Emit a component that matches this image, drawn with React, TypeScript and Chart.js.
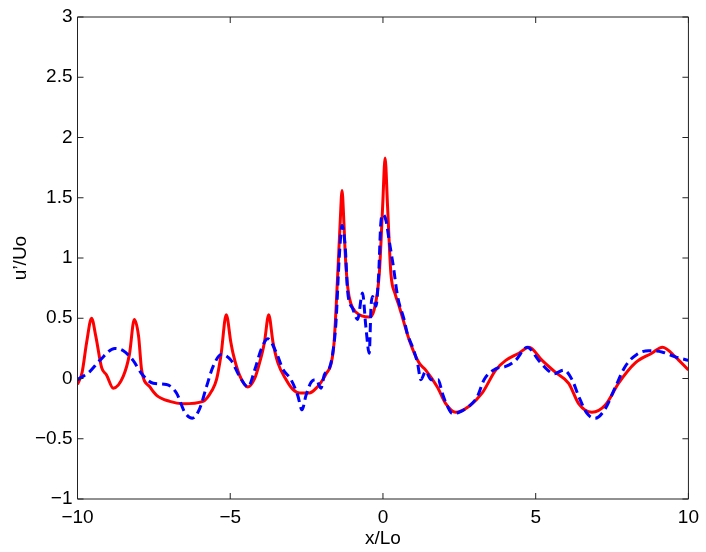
import React, { useEffect, useRef } from "react";
import { Chart, registerables } from "chart.js";

Chart.register(...registerables);

const redX = [-10, -9.85, -9.7, -9.54, -9.4, -9.21, -9.05, -8.83, -8.5, -8.3, -8.14, -8.0, -7.9, -7.63, -7.41, -6.98, -6.55, -5.89, -5.6, -5.45, -5.3, -5.13, -4.98, -4.91, -4.7, -4.42, -4.2, -4.04, -3.88, -3.74, -3.6, -3.44, -3.17, -2.95, -2.73, -2.41, -2.15, -1.97, -1.86, -1.7, -1.6, -1.48, -1.4, -1.34, -1.28, -1.23, -1.15, -1.05, -0.88, -0.45, -0.29, -0.12, -0.01, 0.07, 0.15, 0.26, 0.4, 0.53, 0.86, 1.18, 1.4, 1.78, 2.06, 2.38, 2.82, 3.25, 3.69, 4.02, 4.45, 4.78, 5.21, 5.65, 6.08, 6.41, 6.84, 7.28, 7.71, 8.26, 8.8, 9.15, 9.57, 10];
const redY = [-0.05, 0.05, 0.3, 0.5, 0.35, 0.09, 0.03, -0.08, 0.02, 0.2, 0.49, 0.35, 0.07, -0.07, -0.14, -0.19, -0.21, -0.19, -0.1, -0.01, 0.2, 0.53, 0.3, 0.21, 0.03, -0.07, 0.0, 0.13, 0.3, 0.53, 0.3, 0.13, -0.01, -0.09, -0.12, -0.12, -0.07, -0.01, 0.04, 0.12, 0.3, 0.87, 1.3, 1.56, 1.3, 1.01, 0.75, 0.62, 0.55, 0.51, 0.57, 0.87, 1.43, 1.83, 1.43, 0.87, 0.7, 0.6, 0.32, 0.13, 0.07, -0.07, -0.21, -0.28, -0.23, -0.12, 0.07, 0.15, 0.21, 0.26, 0.15, 0.05, -0.04, -0.21, -0.28, -0.22, -0.04, 0.13, 0.21, 0.26, 0.18, 0.07];

const blueX = [-10, -9.59, -9.27, -8.78, -8.5, -8.18, -7.9, -7.52, -7.09, -6.76, -6.49, -6.24, -6.0, -5.78, -5.56, -5.29, -4.97, -4.69, -4.42, -4.2, -3.99, -3.77, -3.5, -3.28, -3.01, -2.79, -2.65, -2.52, -2.35, -2.19, -2.03, -1.92, -1.76, -1.65, -1.54, -1.43, -1.34, -1.23, -1.16, -0.99, -0.83, -0.67, -0.56, -0.45, -0.39, -0.34, -0.23, -0.14, -0.07, 0.0, 0.1, 0.2, 0.34, 0.48, 0.69, 0.8, 0.97, 1.13, 1.24, 1.4, 1.57, 1.81, 1.94, 2.11, 2.27, 2.49, 2.82, 3.09, 3.31, 3.69, 4.02, 4.34, 4.72, 5.1, 5.35, 5.6, 5.92, 6.19, 6.41, 6.68, 6.95, 7.28, 7.61, 7.93, 8.31, 8.69, 9.13, 9.57, 10];
const blueY = [-0.01, 0.06, 0.15, 0.25, 0.23, 0.15, 0.04, -0.04, -0.05, -0.12, -0.28, -0.33, -0.25, -0.07, 0.1, 0.2, 0.15, 0.015, -0.07, 0.07, 0.24, 0.33, 0.22, 0.08, -0.01, -0.14, -0.26, -0.14, -0.03, -0.01, -0.08, 0.03, 0.08, 0.2, 0.46, 1.01, 1.27, 1.07, 0.73, 0.58, 0.49, 0.71, 0.43, 0.21, 0.6, 0.68, 0.6, 0.87, 1.29, 1.36, 1.31, 1.15, 0.93, 0.68, 0.49, 0.37, 0.26, 0.13, -0.01, 0.06, -0.01, -0.01, -0.12, -0.23, -0.29, -0.28, -0.23, -0.15, -0.01, 0.08, 0.1, 0.15, 0.26, 0.15, 0.08, 0.04, 0.07, -0.01, -0.15, -0.29, -0.33, -0.25, -0.07, 0.1, 0.2, 0.23, 0.22, 0.18, 0.15];

const xTicks = [-10, -5, 0, 5, 10];
const yTicks = [-1, -0.5, 0, 0.5, 1, 1.5, 2, 2.5, 3];
const xTitle = "x/Lo";
const yTitle = "u\u2019/Uo";

const fmt = (v: number) => (v < 0 ? "\u2212" + String(Math.abs(v)) : String(v));

const boxPlugin = {
  id: "boxTicks",
  afterDraw(chart: any) {
    const { ctx, chartArea } = chart;
    const { left, right, top, bottom } = chartArea;
    const xs = chart.scales.x;
    const ys = chart.scales.y;
    const tl = 6;
    ctx.save();
    ctx.strokeStyle = "#222";
    ctx.lineWidth = 1;
    ctx.beginPath();
    ctx.rect(left, top, right - left, bottom - top);
    ctx.stroke();
    ctx.beginPath();
    for (const v of xTicks) {
      const px = xs.getPixelForValue(v);
      ctx.moveTo(px, bottom);
      ctx.lineTo(px, bottom - tl);
      ctx.moveTo(px, top);
      ctx.lineTo(px, top + tl);
    }
    for (const v of yTicks) {
      const py = ys.getPixelForValue(v);
      ctx.moveTo(left, py);
      ctx.lineTo(left + tl, py);
      ctx.moveTo(right, py);
      ctx.lineTo(right - tl, py);
    }
    ctx.stroke();
    ctx.restore();
  },
};

export default function App() {
  const ref = useRef<HTMLCanvasElement | null>(null);
  useEffect(() => {
    if (!ref.current) return;
    const font = { family: "'Liberation Sans', Arial, sans-serif", size: 19 };
    const chart = new Chart(ref.current, {
      type: "line",
      data: {
        datasets: [
          {
            label: "red",
            data: redX.map((x, i) => ({ x, y: redY[i] })),
            borderColor: "#ff0000",
            borderWidth: 3,
            pointRadius: 0,
            tension: 0.4,
            cubicInterpolationMode: "monotone",
            order: 1,
          },
          {
            label: "blue",
            data: blueX.map((x, i) => ({ x, y: blueY[i] })),
            borderColor: "#0000ff",
            borderWidth: 3,
            borderDash: [9, 5],
            pointRadius: 0,
            tension: 0.4,
            cubicInterpolationMode: "monotone",
            order: 0,
          },
        ],
      },
      options: {
        animation: false,
        responsive: false,
        maintainAspectRatio: false,
        layout: { padding: { top: 17, right: 16, bottom: 0, left: 0 } },
        plugins: { legend: { display: false }, tooltip: { enabled: false } },
        scales: {
          x: {
            type: "linear",
            min: -10,
            max: 10,
            afterBuildTicks: (s: any) => {
              s.ticks = xTicks.map((v) => ({ value: v }));
            },
            afterFit: (s: any) => {
              s.height = 53;
            },
            grid: { display: false, drawTicks: false },
            border: { display: false },
            ticks: { color: "#000", font, padding: 7, callback: (v: any) => fmt(Number(v)), maxRotation: 0 },
            title: { display: true, text: xTitle, color: "#000", font, padding: { top: 0, bottom: 2 } },
          },
          y: {
            type: "linear",
            min: -1,
            max: 3,
            afterBuildTicks: (s: any) => {
              s.ticks = yTicks.map((v) => ({ value: v }));
            },
            afterFit: (s: any) => {
              s.width = 77.5;
            },
            grid: { display: false, drawTicks: false },
            border: { display: false },
            ticks: { color: "#000", font, padding: 5, callback: (v: any) => fmt(Number(v)) },
            title: { display: true, text: yTitle, color: "#000", font, padding: { top: 9, bottom: 0 } },
          },
        },
      },
      plugins: [boxPlugin],
    } as any);
    return () => chart.destroy();
  }, []);
  return (
    <div style={{ position: "fixed", left: 0, top: 0, width: 706, height: 552, background: "#fff" }}>
      <canvas ref={ref} width={706} height={552} style={{ display: "block" }} />
    </div>
  );
}
